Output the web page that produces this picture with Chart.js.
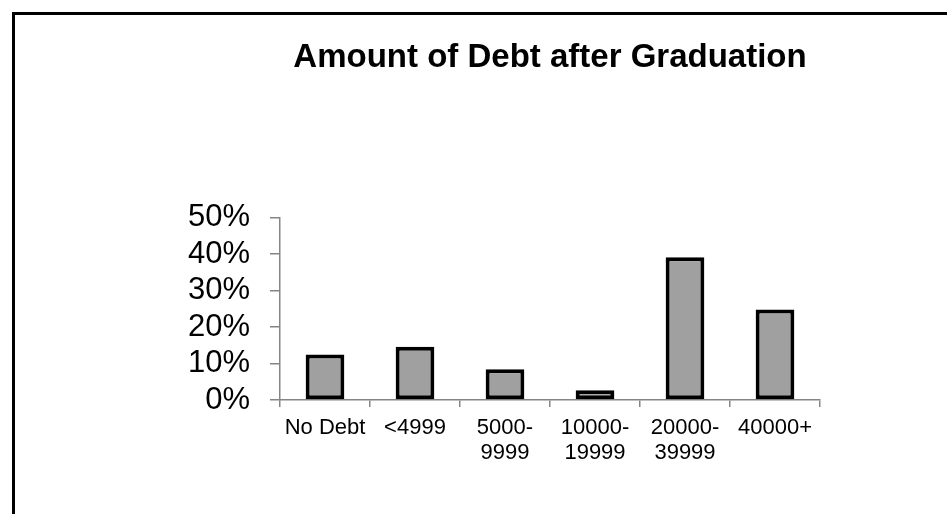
<!DOCTYPE html>
<html>
<head>
<meta charset="utf-8">
<script src="https://cdn.jsdelivr.net/npm/chart.js@4"></script>
<style>
  html, body { margin: 0; padding: 0; background: #fff; overflow: hidden; }
  #frame { position: absolute; left: 12px; top: 12px; width: 1000px; height: 600px; border: 3px solid #000; }
  #wrap { position: absolute; left: 0; top: 0; width: 947px; height: 514px; }
</style>
</head>
<body>
<div id="frame"></div>
<div id="wrap"><canvas id="debtChart" width="947" height="514"></canvas></div>
<script>
const debtLabels = ['No Debt', '<4999', ['5000-', '9999'], ['10000-', '19999'], ['20000-', '39999'], '40000+'];
const debtShares = [12.5, 14.6, 8.4, 2.7, 39.1, 24.8];
const shareStep = 10;
const shareMax = 50;

const fontFamily = '"Liberation Sans", Arial, sans-serif';
const axisGray = '#858585';

new Chart(document.getElementById('debtChart'), {
    type: 'bar',
    data: {
        labels: debtLabels,
        datasets: [{
            data: debtShares,
            backgroundColor: '#a0a0a0',
            borderColor: '#000000',
            borderWidth: 4,
            borderSkipped: false,
            barPercentage: 0.43,
            categoryPercentage: 1
        }]
    },
    options: {
        responsive: false,
        animation: false,
        layout: {
            padding: { left: 0, right: 127, top: 0, bottom: 0 }
        },
        plugins: {
            legend: { display: false },
            tooltip: { enabled: false },
            title: {
                display: true,
                fullSize: false,
                text: 'Amount of Debt after Graduation',
                color: '#000000',
                font: { family: fontFamily, size: 33, weight: 'bold' },
                padding: { top: 38, bottom: 140 }
            }
        },
        scales: {
            x: {
                afterFit: s => { s.height = 114; },
                grid: {
                    display: true,
                    drawOnChartArea: false,
                    drawTicks: true,
                    tickLength: 7,
                    tickColor: axisGray,
                    offset: true,
                    lineWidth: 1.5
                },
                border: { display: true, color: axisGray, width: 1.5 },
                ticks: {
                    color: '#000000',
                    font: { family: fontFamily, size: 22, lineHeight: 1.15 },
                    maxRotation: 0,
                    autoSkip: false,
                    padding: 8
                }
            },
            y: {
                min: 0,
                max: shareMax,
                afterFit: s => { s.width = 280; },
                grid: {
                    display: true,
                    drawOnChartArea: false,
                    drawTicks: true,
                    tickLength: 10,
                    tickColor: axisGray,
                    lineWidth: 1.5
                },
                border: { display: true, color: axisGray, width: 1.5 },
                ticks: {
                    stepSize: shareStep,
                    autoSkip: false,
                    color: '#000000',
                    font: { family: fontFamily, size: 31, lineHeight: 1 },
                    padding: 20,
                    callback: v => v + '%'
                }
            }
        }
    }
});
</script>
</body>
</html>
